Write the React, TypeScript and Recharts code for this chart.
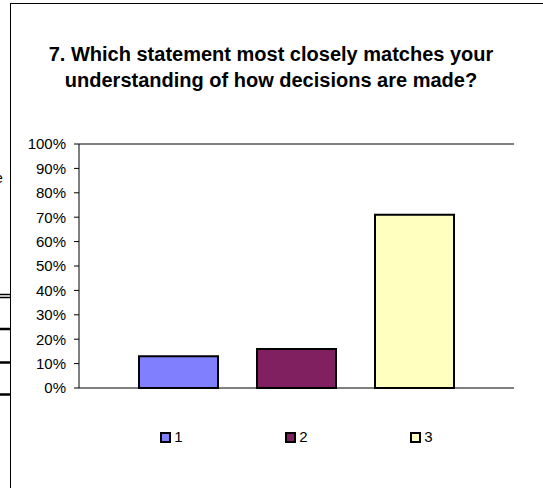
import React from 'react';
import { BarChart, Bar, XAxis, YAxis, CartesianGrid } from 'recharts';

const titleLines = [
  '7. Which statement most closely matches your',
  'understanding of how decisions are made?',
];
const seriesNames = ['1', '2', '3'];
const seriesValues = [0.13, 0.16, 0.71];
const seriesColors = ['#8080FF', '#802060', '#FFFFC0'];
const yTicks = [0, 0.1, 0.2, 0.3, 0.4, 0.5, 0.6, 0.7, 0.8, 0.9, 1];

const row: Record<string, number | string> = { name: 'Q7' };
seriesNames.forEach((n, i) => {
  row['s' + n] = seriesValues[i];
});
const data = [row];

const FONT = '"Liberation Sans", Arial, Helvetica, sans-serif';

export default function App() {
  return (
    <div style={{ position: 'absolute', left: 0, top: 0, width: 543, height: 488, overflow: 'hidden', background: '#fff', fontFamily: FONT }}>
      <svg width={543} height={488} style={{ position: 'absolute', left: 0, top: 0 }}>
        <rect x={10.5} y={3.5} width={700} height={700} fill="#fff" stroke="#000" strokeWidth={1} />
        <text x={-5} y={183} fontSize={14} fontFamily={FONT} fill="#000">e</text>
        <line x1={0} x2={10} y1={294.5} y2={294.5} stroke="#000" strokeWidth={1.5} />
        <line x1={0} x2={10} y1={297.5} y2={297.5} stroke="#000" strokeWidth={1.5} />
        <line x1={0} x2={10} y1={329} y2={329} stroke="#000" strokeWidth={2.5} />
        <line x1={0} x2={10} y1={362.5} y2={362.5} stroke="#000" strokeWidth={2.5} />
        <line x1={0} x2={10} y1={394.5} y2={394.5} stroke="#000" strokeWidth={2.5} />
        {titleLines.map((t, i) => (
          <text key={i} x={271} y={61 + i * 26} textAnchor="middle" fontSize={20} fontWeight="bold" fontFamily={FONT} fill="#000">
            {t}
          </text>
        ))}
      </svg>
      <div style={{ position: 'absolute', left: 0, top: 0 }}>
        <BarChart
          width={543}
          height={488}
          data={data}
          margin={{ top: 144, right: 29, bottom: 100, left: 0 }}
          barSize={79}
          barGap={39}
        >
          <CartesianGrid horizontal vertical={false} stroke="#000" strokeOpacity={1} />
          <XAxis dataKey="name" hide />
          <YAxis
            yAxisId="l"
            width={79}
            domain={[0, 1]}
            ticks={yTicks}
            interval={0}
            tickFormatter={(v: number) => Math.round(v * 100) + '%'}
            tick={{ fontSize: 15, fill: '#000', fontFamily: FONT }}
            tickSize={5}
            tickMargin={8}
            axisLine={{ stroke: '#000' }}
            tickLine={{ stroke: '#000' }}
          />
          <YAxis
            yAxisId="r"
            orientation="right"
            width={0}
            domain={[0, 1]}
            tick={false}
            tickLine={false}
            axisLine={{ stroke: '#808080' }}
          />
          {seriesNames.map((n, i) => (
            <Bar
              key={n}
              yAxisId="l"
              dataKey={'s' + n}
              name={n}
              fill={seriesColors[i]}
              stroke="#000"
              strokeWidth={2}
              isAnimationActive={false}
            />
          ))}
        </BarChart>
      </div>
      <div style={{ position: 'absolute', left: 79, top: 428, width: 435, display: 'flex', justifyContent: 'center' }}>
        {seriesNames.map((n, i) => (
          <div key={n} style={{ width: 125, display: 'flex', alignItems: 'center', justifyContent: 'center', height: 18 }}>
            <span style={{ display: 'inline-block', width: 7, height: 7, border: '2px solid #000', background: seriesColors[i], marginRight: 3 }} />
            <span style={{ fontSize: 15, color: '#000', lineHeight: '18px' }}>{n}</span>
          </div>
        ))}
      </div>
    </div>
  );
}
